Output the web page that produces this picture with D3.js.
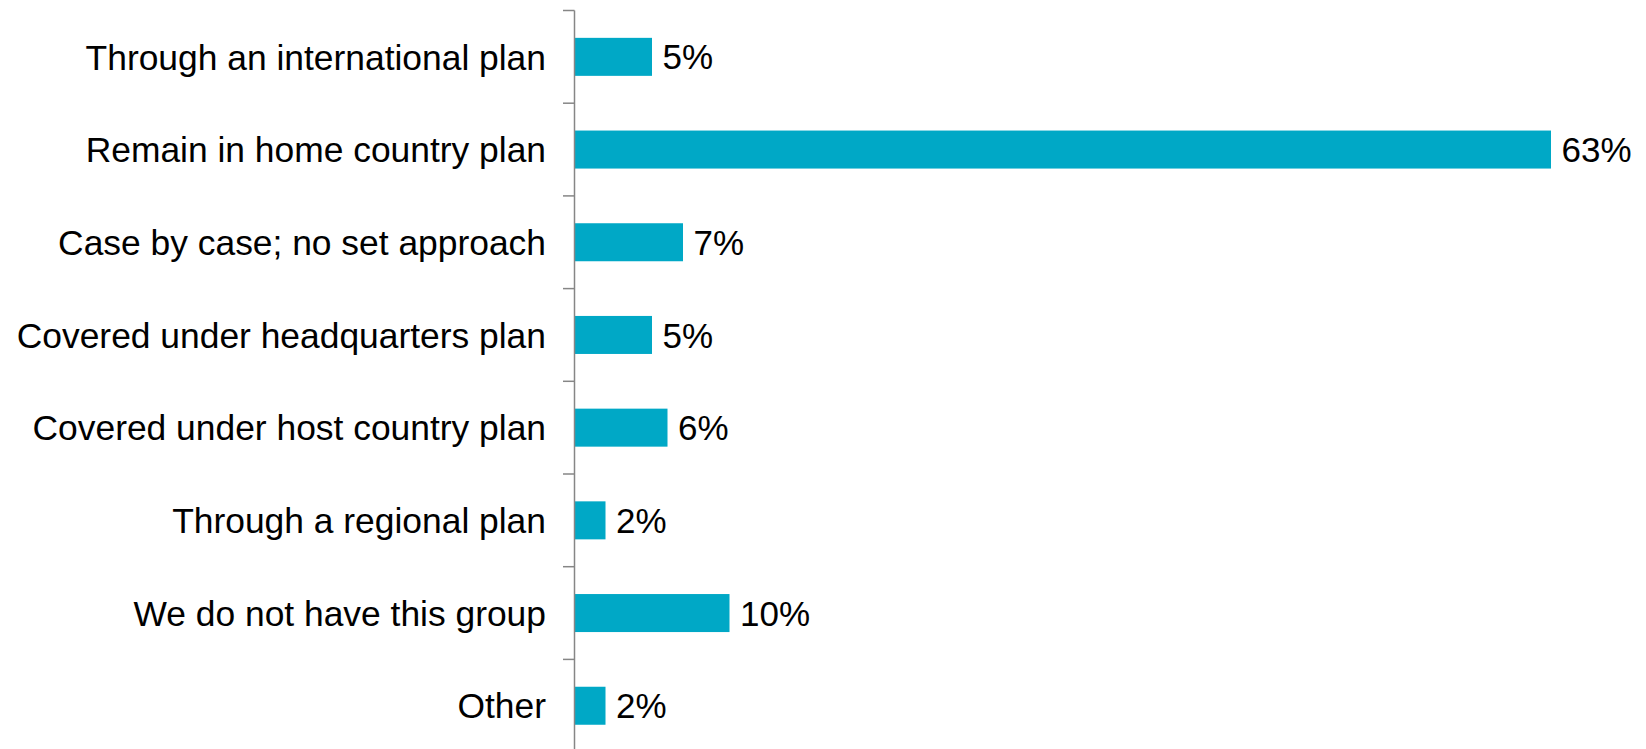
<!DOCTYPE html>
<html>
<head>
<meta charset="utf-8">
<script src="https://cdn.jsdelivr.net/npm/d3@7"></script>
<style>
  html, body { margin: 0; padding: 0; background: #fff; }
  svg { display: block; }
</style>
</head>
<body>
<svg id="chart" width="1646" height="749"></svg>
<script>
// Survey responses: how employees are covered
const categories = [
  "Through an international plan",
  "Remain in home country plan",
  "Case by case; no set approach",
  "Covered under headquarters plan",
  "Covered under host country plan",
  "Through a regional plan",
  "We do not have this group",
  "Other"
];
const values = [5, 63, 7, 5, 6, 2, 10, 2];

const width = 1646, height = 749;
const margin = { top: 10.5, left: 574.5 };
const bandStep = 92.7;

const svg = d3.select("#chart");

const y = d3.scaleBand()
  .domain(categories)
  .range([margin.top, margin.top + bandStep * categories.length])
  .paddingInner(0.59)
  .paddingOuter(0.295);

const x = d3.scaleLinear()
  .domain([0, 63])
  .range([margin.left, 1551]);

const font = "'Liberation Sans', Arial, sans-serif";

// Bars
svg.append("g")
  .selectAll("rect")
  .data(values)
  .join("rect")
  .attr("x", x(0))
  .attr("y", (d, i) => y(categories[i]))
  .attr("width", d => x(d) - x(0))
  .attr("height", y.bandwidth())
  .attr("fill", "#00A8C6");

// Value labels
svg.append("g")
  .selectAll("text")
  .data(values)
  .join("text")
  .attr("x", d => x(d) + 10.5)
  .attr("y", (d, i) => y(categories[i]) + y.bandwidth() / 2)
  .attr("dy", "0.36em")
  .attr("font-family", font)
  .attr("font-size", 35)
  .attr("fill", "#000")
  .text(d => d + "%");

// Category axis: line, ticks between bands, labels
const axis = svg.append("g");
axis.append("line")
  .attr("x1", margin.left).attr("x2", margin.left)
  .attr("y1", margin.top).attr("y2", height + 5)
  .attr("stroke", "#868686")
  .attr("stroke-width", 1.5);

const tickYs = d3.range(categories.length).map(i => margin.top + i * y.step());
axis.selectAll("line.tick")
  .data(tickYs)
  .join("line")
  .attr("class", "tick")
  .attr("x1", margin.left - 11.5).attr("x2", margin.left)
  .attr("y1", d => d).attr("y2", d => d)
  .attr("stroke", "#868686")
  .attr("stroke-width", 1.5);

axis.selectAll("text")
  .data(categories)
  .join("text")
  .attr("x", 546)
  .attr("y", d => y(d) + y.bandwidth() / 2)
  .attr("dy", "0.36em")
  .attr("text-anchor", "end")
  .attr("font-family", font)
  .attr("font-size", 35.4)
  .attr("fill", "#000")
  .text(d => d);
</script>
</body>
</html>
